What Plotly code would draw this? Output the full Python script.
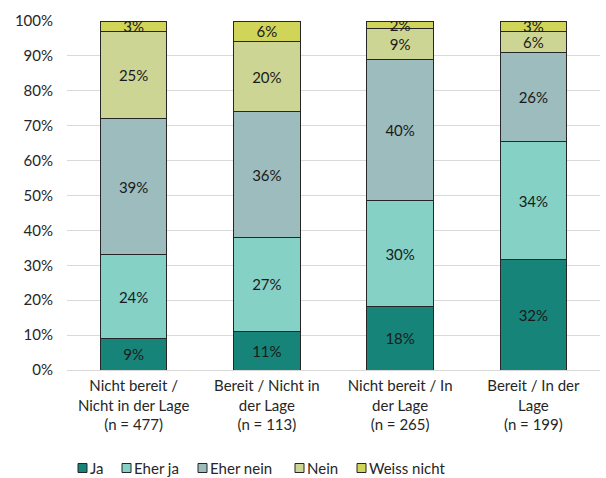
import plotly.graph_objects as go

categories = [
    "Nicht bereit /<br>Nicht in der Lage<br>(n = 477)",
    "Bereit / Nicht in<br>der Lage<br>(n = 113)",
    "Nicht bereit / In<br>der Lage<br>(n = 265)",
    "Bereit / In der<br>Lage<br>(n = 199)",
]
series_names = ["Ja", "Eher ja", "Eher nein", "Nein", "Weiss nicht"]
ja = [9, 11, 18, 32]
eher_ja = [24, 27, 30, 34]
eher_nein = [39, 36, 40, 26]
nein = [25, 20, 9, 6]
weiss_nicht = [3, 6, 2, 3]
y_ticks = [0, 10, 20, 30, 40, 50, 60, 70, 80, 90, 100]

series_values = [ja, eher_ja, eher_nein, nein, weiss_nicht]
colors = ["#168478", "#85d1c5", "#9dbcbd", "#cdd594", "#d0d55a"]
FONT = "Lato"
TXT = "#262626"
OUTLINE = "#262626"

# plot area in pixels (for placing the hand-built legend)
W, H = 606, 478
ML, MR, MT, MB = 67, 6, 21, 108
PW, PH = W - ML - MR, H - MT - MB


def px_x(px):
    return (px - ML) / PW


def px_y(py):
    return (H - MB - py) / PH


fig = go.Figure()
for name, vals, col in zip(series_names, series_values, colors):
    fig.add_trace(go.Bar(
        x=categories,
        y=vals,
        name=name,
        marker=dict(color=col, line=dict(color=OUTLINE, width=1)),
        text=[f"{v}%" for v in vals],
        textposition="inside",
        insidetextanchor="middle",
        textangle=0,
        textfont=dict(family=FONT, size=15, color="#1a1a1a"),
        hoverinfo="skip",
        showlegend=False,
    ))

# legend row: small outlined squares followed by the series name
legend_x = [78, 122, 198, 295, 357]
legend_y = 468
sq = 9
for name, col, lx in zip(series_names, colors, legend_x):
    fig.add_shape(
        type="rect", xref="paper", yref="paper",
        x0=px_x(lx), x1=px_x(lx + sq),
        y0=px_y(legend_y + sq / 2), y1=px_y(legend_y - sq / 2),
        fillcolor=col, line=dict(color=OUTLINE, width=1),
    )
    fig.add_annotation(
        xref="paper", yref="paper",
        x=px_x(lx + sq + 1), y=px_y(legend_y),
        text=name, showarrow=False,
        xanchor="left", yanchor="middle",
        font=dict(family=FONT, size=15, color=TXT),
    )

fig.update_layout(
    barmode="stack",
    barnorm="percent",
    bargap=0.5,
    width=W,
    height=H,
    margin=dict(l=ML, r=MR, t=MT, b=MB),
    paper_bgcolor="white",
    plot_bgcolor="white",
    font=dict(family=FONT, size=15, color=TXT),
    uniformtext=dict(minsize=15, mode="show"),
    showlegend=False,
)
fig.update_xaxes(
    automargin=False,
    showgrid=False,
    showline=False,
    ticks="",
    ticklabelstandoff=5,
    tickfont=dict(family=FONT, size=15, color=TXT),
)
fig.update_yaxes(
    automargin=False,
    range=[0, 100],
    tickvals=y_ticks,
    ticktext=[f"{t}%" for t in y_ticks],
    showgrid=True,
    gridcolor="#d9d9d9",
    gridwidth=1,
    zeroline=True,
    zerolinecolor="#d9d9d9",
    zerolinewidth=1,
    ticks="",
    ticklabelstandoff=13,
    tickfont=dict(family=FONT, size=15, color=TXT),
)

fig.write_html("out.html")
